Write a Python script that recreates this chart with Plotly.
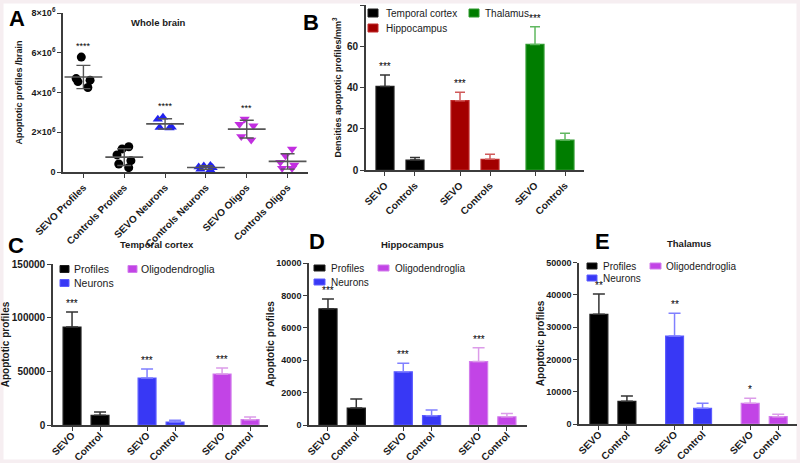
import numpy as np
import plotly.graph_objects as go

W, H = 800, 463
FONT = "Arial, 'Liberation Sans', Helvetica, sans-serif"
INK = "#1a1a1a"
AXIS = "#3c3c3c"

# ---------------- Panel A: whole brain (individual animals) ----------------
a_categories = ["SEVO Profiles", "Controls Profiles", "SEVO Neurons",
                "Controls Neurons", "SEVO Oligos", "Controls Oligos"]
a_sevo_profiles = [5.78e6, 4.70e6, 4.62e6, 4.55e6, 4.25e6]
a_ctrl_profiles = [1.27e6, 1.16e6, 0.86e6, 0.57e6, 0.40e6, 0.22e6]
a_sevo_neurons = [2.75e6, 2.66e6, 2.24e6, 2.21e6, 2.25e6]
a_ctrl_neurons = [0.33e6, 0.30e6, 0.22e6, 0.14e6, 0.10e6, 0.25e6]
a_sevo_oligos = [2.67e6, 2.40e6, 2.33e6, 1.78e6, 1.61e6]
a_ctrl_oligos = [1.16e6, 0.82e6, 0.49e6, 0.35e6, 0.19e6, 0.19e6]
a_stars = ["****", "", "****", "", "***", ""]
a_yticks = [0, 2e6, 4e6, 6e6, 8e6]
a_yticklabels = ["0", "2×10<sup>6</sup>", "4×10<sup>6</sup>", "6×10<sup>6</sup>", "8×10<sup>6</sup>"]

# ---------------- Panel B: densities ----------------
b_regions = ["Temporal cortex", "Hippocampus", "Thalamus"]
b_conditions = ["SEVO", "Controls"]
b_temporal = [40.5, 4.8]
b_temporal_err = [5.6, 1.3]
b_hippocampus = [33.6, 5.2]
b_hippocampus_err = [4.1, 2.4]
b_thalamus = [60.9, 14.5]
b_thalamus_err = [8.6, 3.3]
b_stars = ["***", "***", "***"]

# ---------------- Panels C-E: counts per region ----------------
cell_types = ["Profiles", "Neurons", "Oligodendroglia"]
cde_conditions = ["SEVO", "Control"]

c_profiles = [91200, 9100]
c_profiles_err = [14100, 3100]
c_neurons = [43800, 2800]
c_neurons_err = [8400, 1600]
c_oligo = [47500, 5000]
c_oligo_err = [5600, 2500]
c_stars = ["***", "***", "***"]

d_profiles = [7170, 1045]
d_profiles_err = [615, 555]
d_neurons = [3280, 575]
d_neurons_err = [530, 350]
d_oligo = [3915, 510]
d_oligo_err = [860, 205]
d_stars = ["***", "***", "***"]

e_profiles = [33990, 7030]
e_profiles_err = [6300, 1650]
e_neurons = [27270, 4855]
e_neurons_err = [7025, 1550]
e_oligo = [6405, 2275]
e_oligo_err = [1550, 720]
e_stars = ["**", "**", "*"]

# ---------------- styling ----------------
BLACK = ("#000000", "#1e1e1e", "#333333")
BLUE = ("#3838f5", "#5c5cff", "#8080ff")
PURPLE = ("#c244e6", "#d27cec", "#dc9ce9")
RED = ("#a30000", "#c02a2a", "#d05a5a")
GREEN = ("#007d00", "#2f9a2f", "#60b860")


def X(px):
    return px / W


def Y(py):
    return 1 - py / H


axis_common = dict(showline=True, linecolor=AXIS, linewidth=1.6, ticks="outside",
                   ticklen=4, tickwidth=1.4, tickcolor=AXIS, showgrid=False,
                   zeroline=False, automargin=False, fixedrange=True)

fig = go.Figure()
annotations = []
shapes = []


def bold(size):
    return dict(family=FONT, size=size, color=INK, weight="bold")


# ================= Panel A =================
a_groups = [
    (a_sevo_profiles, "circle", "#000000"),
    (a_ctrl_profiles, "circle", "#000000"),
    (a_sevo_neurons, "triangle-up", "#2323ee"),
    (a_ctrl_neurons, "triangle-up", "#2323ee"),
    (a_sevo_oligos, "triangle-down", "#c22ee0"),
    (a_ctrl_oligos, "triangle-down", "#c22ee0"),
]
a_means = [float(np.mean(v)) for v, _, _ in a_groups]
a_sds = [float(np.std(v, ddof=1)) for v, _, _ in a_groups]

fig.add_trace(go.Scatter(
    x=a_categories, y=a_means, mode="markers", xaxis="x", yaxis="y",
    marker=dict(symbol="line-ew", size=27, line=dict(width=1.6, color="#555555")),
    error_y=dict(type="data", array=a_sds, visible=True, color="#555555", thickness=1.4, width=7),
    showlegend=False, hoverinfo="skip"))

for cat, (vals, sym, col) in zip(a_categories, a_groups):
    fig.add_trace(go.Box(
        x=[cat] * len(vals), y=vals, xaxis="x", yaxis="y",
        boxpoints="all", jitter=1, pointpos=0, width=0.42,
        fillcolor="rgba(0,0,0,0)", line=dict(width=0, color="rgba(0,0,0,0)"),
        marker=dict(symbol=sym, size=9, color=col),
        showlegend=False, hoverinfo="y"))

for cat, (vals, _, _), st in zip(a_categories, a_groups, a_stars):
    if st:
        annotations.append(dict(x=cat, y=max(vals), xref="x", yref="y", text=st,
                                showarrow=False, yanchor="bottom", yshift=4,
                                font=dict(family=FONT, size=9, color="#000000")))

fig.update_layout(
    xaxis=dict(axis_common, domain=[X(63), X(308)], anchor="y", type="category",
               categoryorder="array", categoryarray=a_categories, range=[-0.5, 5.5],
               tickangle=-45, tickfont=bold(10)),
    yaxis=dict(axis_common, domain=[Y(172), Y(13)], anchor="x", range=[0, 8e6],
               tickvals=a_yticks, ticktext=a_yticklabels, tickfont=bold(9),
               title=dict(text="Apoptotic profiles /brain", font=bold(9), standoff=7)),
)

# ================= Bar panels helper =================


def bar_panel(n, series, conditions, stars, step, xr, yr, ydtick, dom_x, dom_y,
              bar_w, tickfont_size, ytick_size, ytitle, ytitle_size, standoff, cap,
              label_shift):
    xa = "x%d" % n
    ya = "y%d" % n
    for g, (name, vals, errs, col) in enumerate(series):
        pos = [g * step + i for i in range(len(vals))]
        fig.add_trace(go.Bar(
            x=pos, y=vals, name=name, xaxis=xa, yaxis=ya, width=bar_w,
            marker=dict(color=col[0], line=dict(color=col[1], width=1.2)),
            error_y=dict(type="data", symmetric=False, array=errs,
                         arrayminus=[0] * len(vals), color=col[2],
                         thickness=1.5, width=cap),
            showlegend=False))
        if stars[g]:
            annotations.append(dict(x=pos[0], y=vals[0] + errs[0], xref=xa, yref=ya,
                                    text=stars[g], showarrow=False, yanchor="bottom",
                                    yshift=1, font=dict(family=FONT, size=10, color="#000000")))
    tickvals = [g * step + i for g in range(len(series)) for i in range(len(conditions))]
    ticktext = [c for _ in range(len(series)) for c in conditions]
    fig.update_layout(**{
        "xaxis%d" % n: dict(axis_common, domain=[X(dom_x[0]), X(dom_x[1])], anchor=ya,
                            range=xr, tickvals=tickvals, ticktext=ticktext,
                            tickangle=-45, tickfont=bold(tickfont_size),
                            ticklabelstandoff=label_shift),
        "yaxis%d" % n: dict(axis_common, domain=[Y(dom_y[1]), Y(dom_y[0])], anchor=xa,
                            range=yr, dtick=ydtick, tickformat="d", tickfont=bold(ytick_size),
                            title=dict(text=ytitle, font=bold(ytitle_size), standoff=standoff)),
    })


def legend_item(label, col, sx, sy, sw, sh, tx, size):
    shapes.append(dict(type="rect", xref="paper", yref="paper",
                       x0=X(sx), x1=X(sx + sw), y0=Y(sy + sh / 2), y1=Y(sy - sh / 2),
                       fillcolor=col[0], line=dict(color=col[1], width=1)))
    annotations.append(dict(xref="paper", yref="paper", x=X(tx), y=Y(sy), text=label,
                            showarrow=False, xanchor="left", yanchor="middle",
                            font=dict(family=FONT, size=size, color=INK)))


# ================= Panel B =================
bar_panel(2,
          [(b_regions[0], b_temporal, b_temporal_err, BLACK),
           (b_regions[1], b_hippocampus, b_hippocampus_err, RED),
           (b_regions[2], b_thalamus, b_thalamus_err, GREEN)],
          b_conditions, b_stars, 2.5, [-0.633, 6.633], [0, 80], 20,
          (366, 584), (5, 170), 0.6, 10, 10,
          "Densities apoptotic profiles/mm<sup>3</sup>", 9, 4, 5, 0)
legend_item(b_regions[0], BLACK, 368, 13, 10, 8, 384, 10)
legend_item(b_regions[1], RED, 368, 28, 10, 8, 384, 10)
legend_item(b_regions[2], GREEN, 469, 13, 10, 8, 483, 10)

# ================= Panels C, D, E =================
cde = [
    (3, [(cell_types[0], c_profiles, c_profiles_err, BLACK),
         (cell_types[1], c_neurons, c_neurons_err, BLUE),
         (cell_types[2], c_oligo, c_oligo_err, PURPLE)],
     c_stars, 2.68, [-0.68, 7.0], [0, 150000], 50000, (53, 268), (264, 425), 10, 0),
    (4, [(cell_types[0], d_profiles, d_profiles_err, BLACK),
         (cell_types[1], d_neurons, d_neurons_err, BLUE),
         (cell_types[2], d_oligo, d_oligo_err, PURPLE)],
     d_stars, 2.66, [-0.67, 7.03], [0, 10000], 2000, (309, 527), (263, 425), 9, 0),
    (5, [(cell_types[0], e_profiles, e_profiles_err, BLACK),
         (cell_types[1], e_neurons, e_neurons_err, BLUE),
         (cell_types[2], e_oligo, e_oligo_err, PURPLE)],
     e_stars, 2.7, [-0.71, 7.07], [0, 50000], 10000, (579, 797), (262.7, 424), 9, 0),
]
for n, ser, st, step, xr, yr, dt, dx, dy, yts, so in cde:
    bar_panel(n, ser, cde_conditions, st, step, xr, yr, dt, dx, dy, 0.64, 10, yts,
              "Apoptotic profiles", 10, so, 6, -5)

# legends C, D, E
legend_item(cell_types[0], BLACK, 60, 269, 9, 7, 72, 10.5)
legend_item(cell_types[2], PURPLE, 128, 269, 9, 7, 139, 10.5)
legend_item(cell_types[1], BLUE, 60, 283, 9, 7, 72, 10.5)

legend_item(cell_types[0], BLACK, 314, 268, 11, 6, 329, 10)
legend_item(cell_types[2], PURPLE, 378, 268, 11, 6, 393, 10)
legend_item(cell_types[1], BLUE, 314, 282, 11, 6, 329, 10)

legend_item(cell_types[0], BLACK, 587, 266, 10, 6, 601, 10)
legend_item(cell_types[2], PURPLE, 650, 266, 11, 6, 664, 10)
legend_item(cell_types[1], BLUE, 587, 278, 10, 6, 601, 10)

# ================= Titles and panel letters =================
titles = [("Whole brain", 158, 22), ("Temporal cortex", 157, 244),
          ("Hippocampus", 412, 244), ("Thalamus", 689, 243)]
for t, tx, ty in titles:
    annotations.append(dict(xref="paper", yref="paper", x=X(tx), y=Y(ty), text=t,
                            showarrow=False, xanchor="center", yanchor="middle",
                            font=bold(9.5)))
letters = [("A", 17, 18), ("B", 311, 23), ("C", 16, 245), ("D", 317, 242), ("E", 602, 242)]
for t, tx, ty in letters:
    annotations.append(dict(xref="paper", yref="paper", x=X(tx), y=Y(ty), text=t,
                            showarrow=False, xanchor="center", yanchor="middle",
                            font=dict(family=FONT, size=22, color="#000000", weight="bold")))

shapes.append(dict(type="rect", xref="paper", yref="paper", x0=0, x1=1, y0=0, y1=1,
                   line=dict(color="#f6eef1", width=7), fillcolor="rgba(0,0,0,0)", layer="below"))

fig.update_layout(
    width=W, height=H, margin=dict(l=0, r=0, t=0, b=0),
    paper_bgcolor="white", plot_bgcolor="rgba(0,0,0,0)",
    barmode="overlay", boxmode="overlay", showlegend=False,
    font=dict(family=FONT, color=INK),
    annotations=annotations, shapes=shapes,
)

fig.write_html("out.html", config={"displayModeBar": False},
               post_script="document.body.style.margin='0px';")
